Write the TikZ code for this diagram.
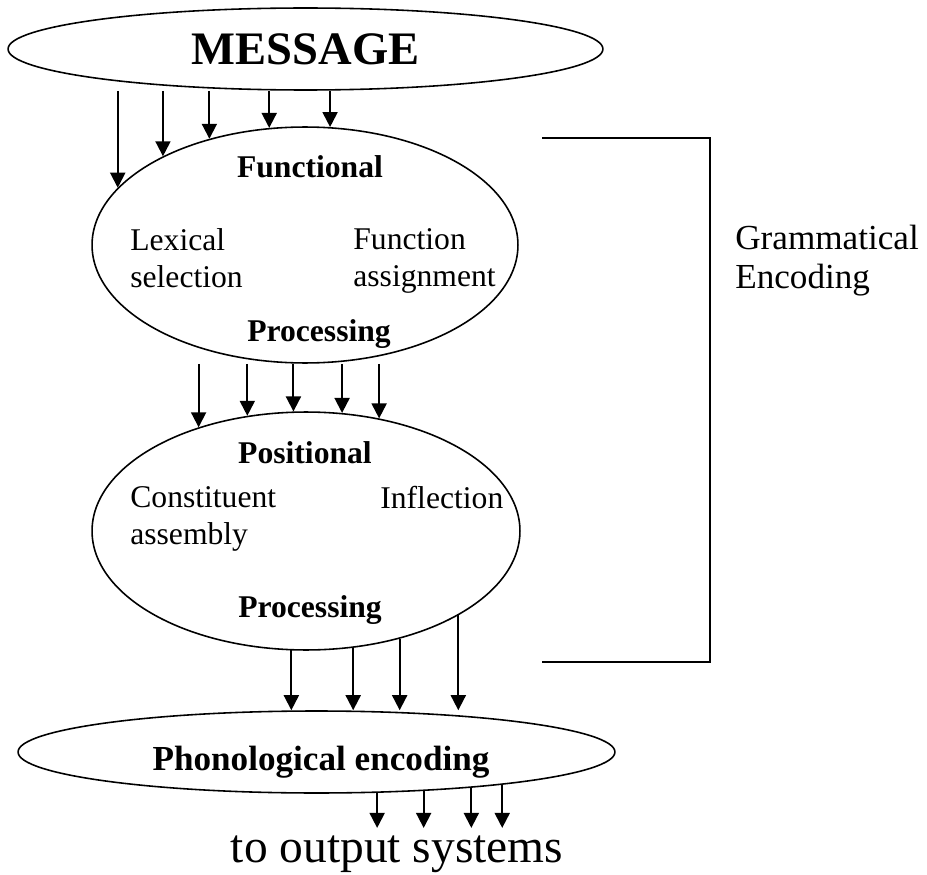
\documentclass[tikz,border=0pt]{standalone}
\usepackage{fontspec}
\setmainfont{Liberation Serif}
\usepackage{tikz}
\usetikzlibrary{shapes.geometric,arrows.meta,positioning}
\tikzset
{
	stage/.style = {ellipse, draw=black, line width=0.9pt, inner sep=0pt},
	flow/.style  = {-{Triangle[length=0.3cm, width=0.3cm]}, line width=1.1pt},
	head/.style  = {font=\bfseries\fontsize{18}{21}\selectfont, inner sep=0pt, anchor=base},
	body/.style  = {font=\fontsize{18}{21}\selectfont, align=left, inner sep=0pt, anchor=north west}
}

\begin{document}
\begin{tikzpicture}[x=0.02cm, y=-0.02cm]
\useasboundingbox (0,0) rectangle (927,875);
\node[stage, minimum width=11.9cm, minimum height=1.64cm, font=\bfseries\fontsize{26.5}{30}\selectfont] (msg) at (305.5,49) {MESSAGE};
\node[stage, minimum width=8.52cm, minimum height=4.72cm] (func) at (305,245) {};
\node[stage, minimum width=8.56cm, minimum height=4.76cm] (pos) at (306,531) {};
\node[stage, minimum width=11.94cm, minimum height=1.64cm] (phon) at (316.5,752) {};

\node[head] (functxt) at (310,177) {Functional};
\node[body] (lex) at (130,228) {Lexical\\selection};
\node[body] (fassign) at (353,228) {Function\\assignment};
\node[head] (proctxt) at (319,341) {Processing};

\node[head] (postxt) at (305,463) {Positional};
\node[body] (assem) at (130,486) {Constituent\\assembly};
\node[body] (infl) at (380,486) {Inflection};
\node[head] (proctxtb) at (310,617) {Processing};

\node[head, font=\bfseries\fontsize{20}{24}\selectfont] (phontxt) at (321,770) {Phonological encoding};
\node[font=\fontsize{27}{32}\selectfont, inner sep=4pt, anchor=base] (out) at (397,862) {to output systems};

\coordinate (gtop) at (542,138);
\coordinate (gbot) at (542,662);
\draw[line width=1.1pt] (gtop) -- ++(168,0) |- (gbot);
\node[body, font=\fontsize{20}{22}\selectfont] (gram) at (735,225) {Grammatical\\Encoding};

\foreach \a in {163.9,148.5,132.4,107.2,78.4}
	\draw[flow] (func.\a |- msg.south) -- (func.\a);
\foreach \a in {136.4,117.7,96.2,73.4,57.7}
	\draw[flow] (pos.\a |- func.south) -- (pos.\a);
\foreach \a in {263.8,292,311.7,331.8}
	\draw[flow] (pos.\a) -- (pos.\a |- phon.north);
\foreach \a in {326.5,340.4,347.3,350.6}
	\draw[flow] (phon.\a) -- (phon.\a |- out.north);
\end{tikzpicture}
\end{document}
